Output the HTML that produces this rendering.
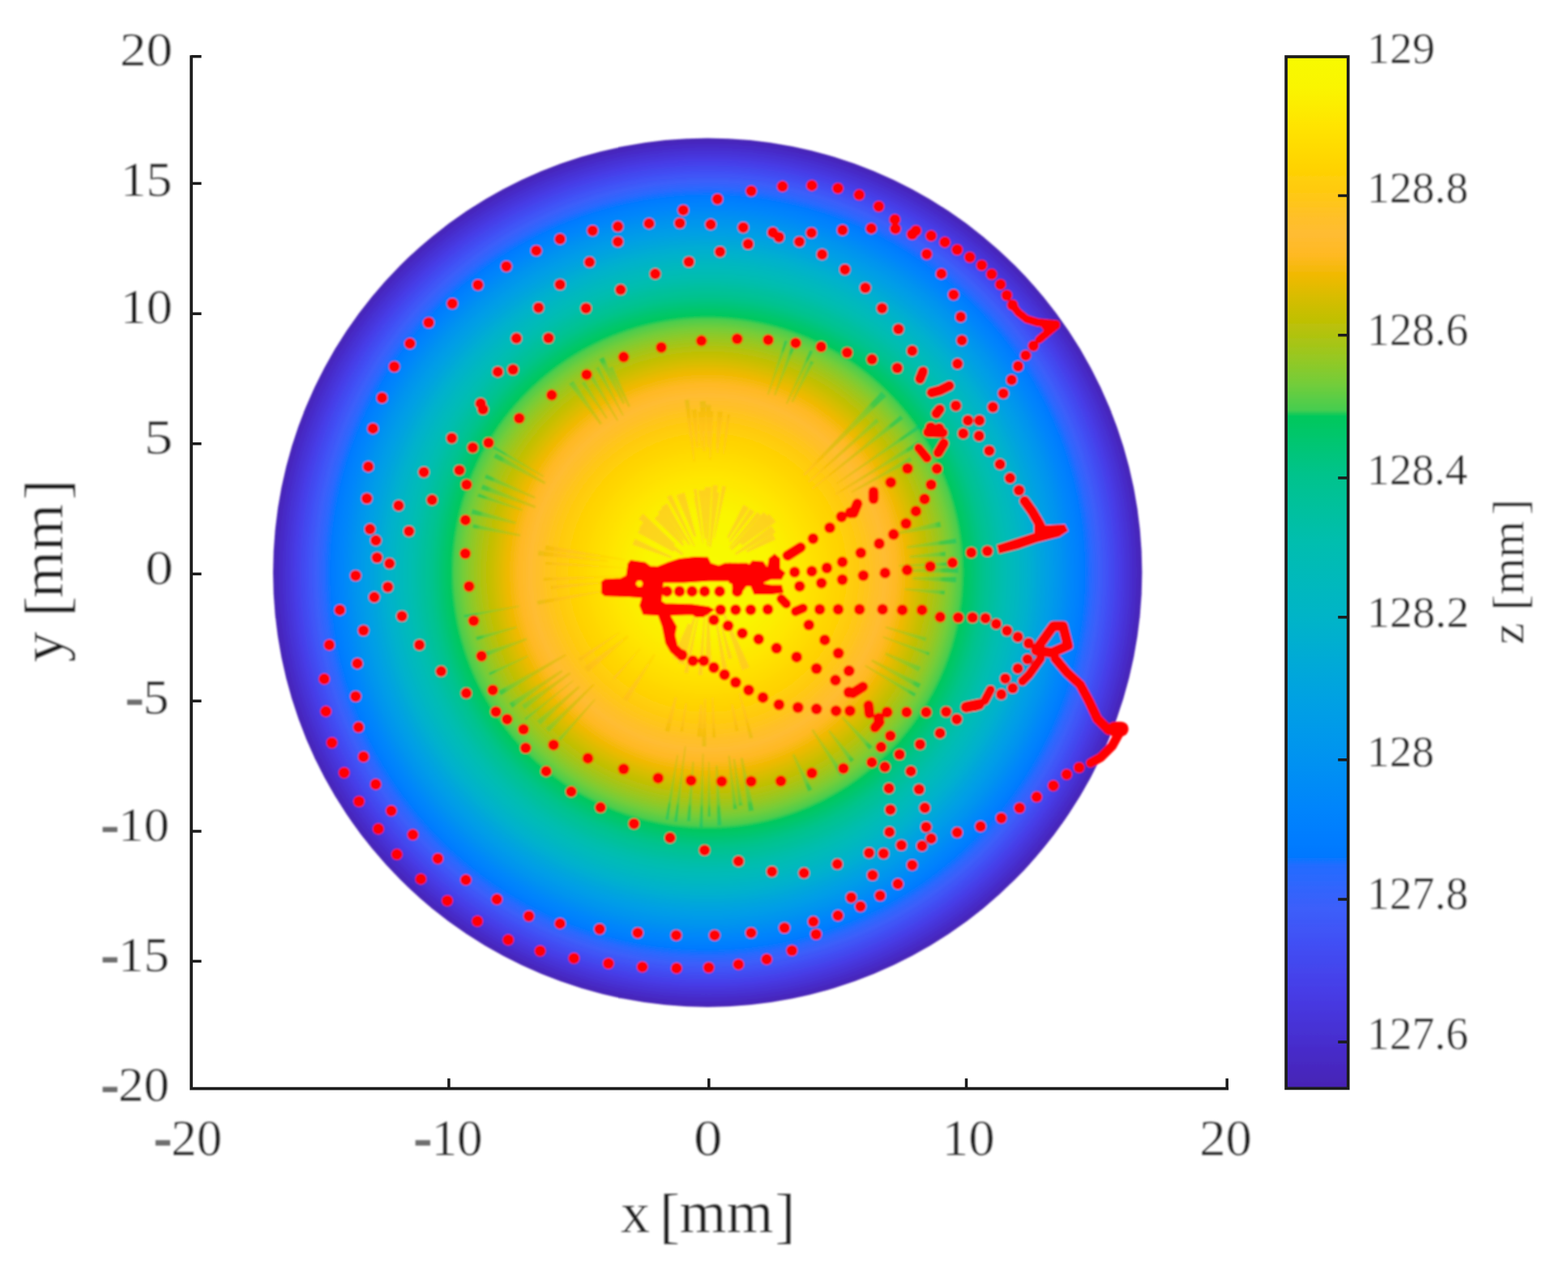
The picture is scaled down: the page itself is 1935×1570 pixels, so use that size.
<!DOCTYPE html>
<html><head><meta charset="utf-8"><title>Surface plot</title>
<style>html,body{margin:0;padding:0;background:#fff}svg{display:block}</style></head>
<body>
<svg width="1935" height="1570" viewBox="0 0 1935 1570">
<defs>
<linearGradient id="cb" gradientUnits="userSpaceOnUse" x1="0" y1="70.0" x2="0" y2="1343.4">
<stop offset="0.0000" stop-color="#f8fa00"/>
<stop offset="0.0297" stop-color="#faf500"/>
<stop offset="0.0671" stop-color="#ffe400"/>
<stop offset="0.1044" stop-color="#ffd400"/>
<stop offset="0.1296" stop-color="#ffca0f"/>
<stop offset="0.1547" stop-color="#ffc028"/>
<stop offset="0.1720" stop-color="#ffbc32"/>
<stop offset="0.1924" stop-color="#ffb923"/>
<stop offset="0.2120" stop-color="#f0b900"/>
<stop offset="0.2423" stop-color="#cdbe00"/>
<stop offset="0.2623" stop-color="#b9c108"/>
<stop offset="0.2921" stop-color="#96c823"/>
<stop offset="0.3173" stop-color="#73cd3a"/>
<stop offset="0.3424" stop-color="#46cd50"/>
<stop offset="0.3487" stop-color="#00c85c"/>
<stop offset="0.4052" stop-color="#00c38c"/>
<stop offset="0.4712" stop-color="#00beaf"/>
<stop offset="0.5442" stop-color="#00b4c8"/>
<stop offset="0.6267" stop-color="#00a0e4"/>
<stop offset="0.6793" stop-color="#0093f0"/>
<stop offset="0.7303" stop-color="#0084fc"/>
<stop offset="0.7586" stop-color="#007cff"/>
<stop offset="0.7751" stop-color="#0078ff"/>
<stop offset="0.7837" stop-color="#236cff"/>
<stop offset="0.8246" stop-color="#3c5ffa"/>
<stop offset="0.8575" stop-color="#4150f5"/>
<stop offset="0.9070" stop-color="#463ce6"/>
<stop offset="0.9565" stop-color="#462dcd"/>
<stop offset="1.0000" stop-color="#4623b4"/>
</linearGradient>
<radialGradient id="rg" gradientUnits="userSpaceOnUse" cx="873.2" cy="706.7" r="536.2">
<stop offset="0.0000" stop-color="#f8fa00"/>
<stop offset="0.0083" stop-color="#f8fa00"/>
<stop offset="0.0167" stop-color="#f8fa00"/>
<stop offset="0.0250" stop-color="#f8fa00"/>
<stop offset="0.0333" stop-color="#f8fa00"/>
<stop offset="0.0417" stop-color="#f8f900"/>
<stop offset="0.0500" stop-color="#f8f900"/>
<stop offset="0.0583" stop-color="#f8f900"/>
<stop offset="0.0667" stop-color="#f8f900"/>
<stop offset="0.0750" stop-color="#f9f800"/>
<stop offset="0.0833" stop-color="#f9f800"/>
<stop offset="0.0917" stop-color="#f9f800"/>
<stop offset="0.1000" stop-color="#f9f700"/>
<stop offset="0.1083" stop-color="#f9f700"/>
<stop offset="0.1167" stop-color="#f9f700"/>
<stop offset="0.1250" stop-color="#faf600"/>
<stop offset="0.1333" stop-color="#faf600"/>
<stop offset="0.1417" stop-color="#faf500"/>
<stop offset="0.1500" stop-color="#faf400"/>
<stop offset="0.1583" stop-color="#fbf200"/>
<stop offset="0.1667" stop-color="#fbf100"/>
<stop offset="0.1750" stop-color="#fcef00"/>
<stop offset="0.1833" stop-color="#fcee00"/>
<stop offset="0.1917" stop-color="#fdec00"/>
<stop offset="0.2000" stop-color="#fdea00"/>
<stop offset="0.2083" stop-color="#fee800"/>
<stop offset="0.2167" stop-color="#fee700"/>
<stop offset="0.2250" stop-color="#ffe500"/>
<stop offset="0.2333" stop-color="#ffe300"/>
<stop offset="0.2417" stop-color="#ffe100"/>
<stop offset="0.2500" stop-color="#ffe000"/>
<stop offset="0.2583" stop-color="#ffde00"/>
<stop offset="0.2667" stop-color="#ffdc00"/>
<stop offset="0.2750" stop-color="#ffda00"/>
<stop offset="0.2833" stop-color="#ffd800"/>
<stop offset="0.2917" stop-color="#ffd600"/>
<stop offset="0.3000" stop-color="#ffd400"/>
<stop offset="0.3083" stop-color="#ffd302"/>
<stop offset="0.3167" stop-color="#ffd105"/>
<stop offset="0.3250" stop-color="#ffcf08"/>
<stop offset="0.3333" stop-color="#ffcd0b"/>
<stop offset="0.3417" stop-color="#ffcb0e"/>
<stop offset="0.3500" stop-color="#ffc912"/>
<stop offset="0.3583" stop-color="#ffc717"/>
<stop offset="0.3667" stop-color="#ffc51c"/>
<stop offset="0.3750" stop-color="#ffc321"/>
<stop offset="0.3833" stop-color="#ffc027"/>
<stop offset="0.3917" stop-color="#ffbf2b"/>
<stop offset="0.4000" stop-color="#ffbe2e"/>
<stop offset="0.4083" stop-color="#ffbc32"/>
<stop offset="0.4167" stop-color="#ffbb2e"/>
<stop offset="0.4250" stop-color="#ffba29"/>
<stop offset="0.4333" stop-color="#ffb925"/>
<stop offset="0.4417" stop-color="#fbb91b"/>
<stop offset="0.4500" stop-color="#f6b90e"/>
<stop offset="0.4583" stop-color="#f1b902"/>
<stop offset="0.4667" stop-color="#e9ba00"/>
<stop offset="0.4750" stop-color="#e0bb00"/>
<stop offset="0.4833" stop-color="#d7bd00"/>
<stop offset="0.4917" stop-color="#cebe00"/>
<stop offset="0.5000" stop-color="#c5bf03"/>
<stop offset="0.5083" stop-color="#bdc006"/>
<stop offset="0.5167" stop-color="#b4c20c"/>
<stop offset="0.5250" stop-color="#a9c414"/>
<stop offset="0.5333" stop-color="#9fc61c"/>
<stop offset="0.5417" stop-color="#94c824"/>
<stop offset="0.5500" stop-color="#88ca2c"/>
<stop offset="0.5583" stop-color="#7bcc35"/>
<stop offset="0.5667" stop-color="#6ccd3d"/>
<stop offset="0.5750" stop-color="#5bcd46"/>
<stop offset="0.5833" stop-color="#4acd4e"/>
<stop offset="0.5917" stop-color="#00c85d"/>
<stop offset="0.6000" stop-color="#00c766"/>
<stop offset="0.6083" stop-color="#00c66f"/>
<stop offset="0.6167" stop-color="#00c579"/>
<stop offset="0.6250" stop-color="#00c483"/>
<stop offset="0.6333" stop-color="#00c38c"/>
<stop offset="0.6417" stop-color="#00c293"/>
<stop offset="0.6500" stop-color="#00c199"/>
<stop offset="0.6583" stop-color="#00c09f"/>
<stop offset="0.6667" stop-color="#00bfa6"/>
<stop offset="0.6750" stop-color="#00beac"/>
<stop offset="0.6833" stop-color="#00bdb1"/>
<stop offset="0.6917" stop-color="#00bbb6"/>
<stop offset="0.7000" stop-color="#00baba"/>
<stop offset="0.7083" stop-color="#00b8be"/>
<stop offset="0.7167" stop-color="#00b6c2"/>
<stop offset="0.7250" stop-color="#00b4c7"/>
<stop offset="0.7333" stop-color="#00b2cb"/>
<stop offset="0.7417" stop-color="#00afcf"/>
<stop offset="0.7500" stop-color="#00acd4"/>
<stop offset="0.7583" stop-color="#00a8d8"/>
<stop offset="0.7667" stop-color="#00a5dd"/>
<stop offset="0.7750" stop-color="#00a2e1"/>
<stop offset="0.7833" stop-color="#009fe5"/>
<stop offset="0.7917" stop-color="#009ce8"/>
<stop offset="0.8000" stop-color="#0098eb"/>
<stop offset="0.8083" stop-color="#0095ee"/>
<stop offset="0.8167" stop-color="#0091f1"/>
<stop offset="0.8250" stop-color="#008df4"/>
<stop offset="0.8333" stop-color="#0089f8"/>
<stop offset="0.8417" stop-color="#0085fb"/>
<stop offset="0.8500" stop-color="#0082fd"/>
<stop offset="0.8583" stop-color="#007efe"/>
<stop offset="0.8667" stop-color="#007aff"/>
<stop offset="0.8750" stop-color="#1670ff"/>
<stop offset="0.8833" stop-color="#2a69fe"/>
<stop offset="0.8917" stop-color="#3264fc"/>
<stop offset="0.9000" stop-color="#3b60fa"/>
<stop offset="0.9083" stop-color="#3e59f8"/>
<stop offset="0.9167" stop-color="#4053f6"/>
<stop offset="0.9250" stop-color="#424df3"/>
<stop offset="0.9333" stop-color="#4347ee"/>
<stop offset="0.9417" stop-color="#4541ea"/>
<stop offset="0.9500" stop-color="#463be5"/>
<stop offset="0.9583" stop-color="#4637dd"/>
<stop offset="0.9667" stop-color="#4632d6"/>
<stop offset="0.9750" stop-color="#462ece"/>
<stop offset="0.9833" stop-color="#462ac6"/>
<stop offset="0.9917" stop-color="#4627bd"/>
<stop offset="1.0000" stop-color="#4623b4"/>
</radialGradient>
<radialGradient id="rg2" gradientUnits="userSpaceOnUse" cx="873.2" cy="706.7" r="536.2">
<stop offset="0.0000" stop-color="#f8fa00"/>
<stop offset="0.0083" stop-color="#f8fa00"/>
<stop offset="0.0167" stop-color="#f8f900"/>
<stop offset="0.0250" stop-color="#f8f900"/>
<stop offset="0.0333" stop-color="#f8f900"/>
<stop offset="0.0417" stop-color="#f9f800"/>
<stop offset="0.0500" stop-color="#f9f800"/>
<stop offset="0.0583" stop-color="#f9f700"/>
<stop offset="0.0667" stop-color="#f9f700"/>
<stop offset="0.0750" stop-color="#faf600"/>
<stop offset="0.0833" stop-color="#faf600"/>
<stop offset="0.0917" stop-color="#faf500"/>
<stop offset="0.1000" stop-color="#fbf300"/>
<stop offset="0.1083" stop-color="#fbf100"/>
<stop offset="0.1167" stop-color="#fcee00"/>
<stop offset="0.1250" stop-color="#fdec00"/>
<stop offset="0.1333" stop-color="#fdea00"/>
<stop offset="0.1417" stop-color="#fee800"/>
<stop offset="0.1500" stop-color="#ffe600"/>
<stop offset="0.1583" stop-color="#ffe300"/>
<stop offset="0.1667" stop-color="#ffe100"/>
<stop offset="0.1750" stop-color="#ffdf00"/>
<stop offset="0.1833" stop-color="#ffdd00"/>
<stop offset="0.1917" stop-color="#ffda00"/>
<stop offset="0.2000" stop-color="#ffd800"/>
<stop offset="0.2083" stop-color="#ffd600"/>
<stop offset="0.2167" stop-color="#ffd401"/>
<stop offset="0.2250" stop-color="#ffd104"/>
<stop offset="0.2333" stop-color="#ffcf07"/>
<stop offset="0.2417" stop-color="#ffcd0a"/>
<stop offset="0.2500" stop-color="#ffcb0e"/>
<stop offset="0.2583" stop-color="#ffc912"/>
<stop offset="0.2667" stop-color="#ffc618"/>
<stop offset="0.2750" stop-color="#ffc41d"/>
<stop offset="0.2833" stop-color="#ffc223"/>
<stop offset="0.2917" stop-color="#ffc029"/>
<stop offset="0.3000" stop-color="#ffbe2c"/>
<stop offset="0.3083" stop-color="#ffbd2f"/>
<stop offset="0.3167" stop-color="#ffbc31"/>
<stop offset="0.3250" stop-color="#ffbb2c"/>
<stop offset="0.3333" stop-color="#ffba28"/>
<stop offset="0.3417" stop-color="#ffb923"/>
<stop offset="0.3500" stop-color="#fab918"/>
<stop offset="0.3583" stop-color="#f5b90d"/>
<stop offset="0.3667" stop-color="#f1b901"/>
<stop offset="0.3750" stop-color="#e9ba00"/>
<stop offset="0.3833" stop-color="#e2bb00"/>
<stop offset="0.3917" stop-color="#dabc00"/>
<stop offset="0.4000" stop-color="#d2bd00"/>
<stop offset="0.4083" stop-color="#cbbe01"/>
<stop offset="0.4167" stop-color="#c4bf03"/>
<stop offset="0.4250" stop-color="#bec006"/>
<stop offset="0.4333" stop-color="#b7c10a"/>
<stop offset="0.4417" stop-color="#afc310"/>
<stop offset="0.4500" stop-color="#a7c516"/>
<stop offset="0.4583" stop-color="#9fc61c"/>
<stop offset="0.4667" stop-color="#98c822"/>
<stop offset="0.4750" stop-color="#8fc928"/>
<stop offset="0.4833" stop-color="#86ca2e"/>
<stop offset="0.4917" stop-color="#7dcc34"/>
<stop offset="0.5000" stop-color="#74cd3a"/>
<stop offset="0.5083" stop-color="#68cd3f"/>
<stop offset="0.5167" stop-color="#5dcd45"/>
<stop offset="0.5250" stop-color="#51cd4a"/>
<stop offset="0.5333" stop-color="#45cd50"/>
<stop offset="0.5417" stop-color="#00c85c"/>
<stop offset="0.5500" stop-color="#00c762"/>
<stop offset="0.5583" stop-color="#00c767"/>
<stop offset="0.5667" stop-color="#00c66d"/>
<stop offset="0.5750" stop-color="#00c673"/>
<stop offset="0.5833" stop-color="#00c579"/>
<stop offset="0.5917" stop-color="#00c480"/>
<stop offset="0.6000" stop-color="#00c486"/>
<stop offset="0.6083" stop-color="#00c38c"/>
<stop offset="0.6167" stop-color="#00c290"/>
<stop offset="0.6250" stop-color="#00c295"/>
<stop offset="0.6333" stop-color="#00c19b"/>
<stop offset="0.6417" stop-color="#00c0a2"/>
<stop offset="0.6500" stop-color="#00bfa8"/>
<stop offset="0.6583" stop-color="#00beaf"/>
<stop offset="0.6667" stop-color="#00bcb3"/>
<stop offset="0.6750" stop-color="#00bbb7"/>
<stop offset="0.6833" stop-color="#00b9bc"/>
<stop offset="0.6917" stop-color="#00b7c0"/>
<stop offset="0.7000" stop-color="#00b6c4"/>
<stop offset="0.7083" stop-color="#00b4c9"/>
<stop offset="0.7167" stop-color="#00b1cd"/>
<stop offset="0.7250" stop-color="#00add1"/>
<stop offset="0.7333" stop-color="#00aad6"/>
<stop offset="0.7417" stop-color="#00a7da"/>
<stop offset="0.7500" stop-color="#00a4de"/>
<stop offset="0.7583" stop-color="#00a1e3"/>
<stop offset="0.7667" stop-color="#009ee6"/>
<stop offset="0.7750" stop-color="#009ae9"/>
<stop offset="0.7833" stop-color="#0097ec"/>
<stop offset="0.7917" stop-color="#0094ef"/>
<stop offset="0.8000" stop-color="#0090f3"/>
<stop offset="0.8083" stop-color="#008cf6"/>
<stop offset="0.8167" stop-color="#0088f9"/>
<stop offset="0.8250" stop-color="#0084fc"/>
<stop offset="0.8333" stop-color="#0080fe"/>
<stop offset="0.8417" stop-color="#007cff"/>
<stop offset="0.8500" stop-color="#0079ff"/>
<stop offset="0.8583" stop-color="#246bff"/>
<stop offset="0.8667" stop-color="#2d67fd"/>
<stop offset="0.8750" stop-color="#3662fb"/>
<stop offset="0.8833" stop-color="#3d5df9"/>
<stop offset="0.8917" stop-color="#3f57f7"/>
<stop offset="0.9000" stop-color="#4150f5"/>
<stop offset="0.9083" stop-color="#424af1"/>
<stop offset="0.9167" stop-color="#4445ec"/>
<stop offset="0.9250" stop-color="#453fe8"/>
<stop offset="0.9333" stop-color="#4639e2"/>
<stop offset="0.9417" stop-color="#4635da"/>
<stop offset="0.9500" stop-color="#4630d3"/>
<stop offset="0.9583" stop-color="#462ccb"/>
<stop offset="0.9667" stop-color="#4629c2"/>
<stop offset="0.9750" stop-color="#4625b9"/>
<stop offset="0.9833" stop-color="#4623b4"/>
<stop offset="0.9917" stop-color="#4623b4"/>
<stop offset="1.0000" stop-color="#4623b4"/>
</radialGradient>
<filter id="bl" x="-5%" y="-5%" width="110%" height="110%"><feGaussianBlur stdDeviation="1.2"/></filter>
<filter id="bt" x="-20%" y="-20%" width="140%" height="140%"><feGaussianBlur stdDeviation="0.8"/></filter>
<filter id="ba" x="-5%" y="-5%" width="110%" height="110%"><feGaussianBlur stdDeviation="0.55"/></filter>
</defs>
<rect width="1935" height="1570" fill="#fff"/>
<g filter="url(#bl)">
<circle cx="873.2" cy="706.7" r="536.2" fill="url(#rg)"/>
<g fill="url(#rg2)" opacity="0.5">
<path d="M771.2,690.1 L673.5,673.1 L672.6,678.9 L770.9,691.9Z"/>
<path d="M750.4,691.5 L664.5,679.6 L663.8,685.7 L750.2,693.6Z"/>
<path d="M771.4,700.3 L673.2,693.4 L673.0,697.0 L771.3,701.4Z"/>
<path d="M778.1,710.1 L670.9,713.1 L671.0,716.9 L778.2,711.1Z"/>
<path d="M750.1,717.6 L679.6,722.9 L680.0,727.5 L750.3,719.4Z"/>
<path d="M759.5,726.0 L662.7,741.4 L663.6,746.6 L759.8,727.7Z"/>
<path d="M763.9,779.9 L713.3,812.6 L716.0,816.5 L765.0,781.5Z"/>
<path d="M774.1,783.9 L720.7,823.5 L725.8,829.8 L776.1,786.4Z"/>
<path d="M789.5,800.3 L755.8,837.1 L758.2,839.2 L790.6,801.2Z"/>
<path d="M806.8,806.9 L768.5,862.4 L774.1,866.1 L809.0,808.3Z"/>
<path d="M832.7,860.1 L820.3,902.0 L826.2,903.5 L835.4,860.8Z"/>
<path d="M845.9,867.6 L839.2,902.8 L842.9,903.4 L847.7,867.9Z"/>
<path d="M863.8,869.7 L860.2,909.3 L866.5,909.6 L866.8,869.9Z"/>
<path d="M868.9,862.4 L866.2,921.1 L871.5,921.2 L871.2,862.5Z"/>
<path d="M878.4,860.8 L879.2,910.4 L883.3,910.2 L880.2,860.8Z"/>
<path d="M902.3,869.4 L907.3,902.7 L911.8,901.9 L904.5,868.9Z"/>
<path d="M911.5,855.4 L925.0,911.6 L929.4,910.4 L913.4,854.9Z"/>
<path d="M893.6,560.6 L901.2,511.7 L897.6,511.2 L892.0,560.4Z"/>
<path d="M886.5,559.2 L892.0,508.6 L887.2,508.2 L884.3,559.1Z"/>
<path d="M885.9,554.0 L890.9,508.1 L885.4,507.7 L883.4,553.8Z"/>
<path d="M877.4,568.2 L880.2,507.6 L875.4,507.5 L875.4,568.1Z"/>
<path d="M875.4,552.3 L877.5,499.7 L871.1,499.6 L872.6,552.3Z"/>
<path d="M870.5,557.2 L870.9,495.1 L863.7,495.3 L867.5,557.3Z"/>
<path d="M866.3,553.8 L864.9,508.0 L861.5,508.2 L864.7,553.8Z"/>
<path d="M862.0,552.5 L859.8,505.3 L853.5,505.8 L859.1,552.7Z"/>
<path d="M857.8,569.9 L850.3,493.2 L844.9,493.9 L855.8,570.2Z"/>
<path d="M777.9,501.6 L756.1,452.2 L751.2,454.5 L775.5,502.7Z"/>
<path d="M771.4,497.6 L745.1,440.4 L739.1,443.4 L768.6,499.0Z"/>
<path d="M769.9,512.4 L738.9,452.4 L735.2,454.4 L768.2,513.3Z"/>
<path d="M763.2,518.7 L732.3,464.0 L728.3,466.3 L761.4,519.8Z"/>
<path d="M749.8,515.7 L721.6,470.4 L717.6,472.9 L747.9,517.0Z"/>
<path d="M743.0,522.4 L707.7,470.2 L702.2,474.1 L740.4,524.2Z"/>
<path d="M671.4,587.6 L609.9,550.6 L608.2,553.4 L670.6,588.9Z"/>
<path d="M673.6,595.1 L612.1,559.2 L608.9,564.8 L672.2,597.7Z"/>
<path d="M660.9,613.3 L600.0,585.3 L597.8,590.3 L659.9,615.6Z"/>
<path d="M661.3,624.5 L595.7,597.7 L593.5,603.7 L660.3,627.3Z"/>
<path d="M644.8,628.5 L590.4,609.0 L589.0,613.1 L644.1,630.5Z"/>
<path d="M637.0,643.9 L583.0,628.3 L581.4,634.4 L636.2,646.9Z"/>
<path d="M642.1,659.6 L584.1,646.7 L583.1,651.8 L641.6,662.0Z"/>
<path d="M1116.4,728.6 L1165.8,734.1 L1166.2,728.9 L1116.6,726.0Z"/>
<path d="M1126.2,715.6 L1180.0,718.9 L1180.2,712.0 L1126.3,712.2Z"/>
<path d="M1124.4,705.9 L1182.6,707.2 L1182.5,699.9 L1124.3,702.4Z"/>
<path d="M1109.5,699.5 L1180.5,698.4 L1180.3,693.3 L1109.4,697.2Z"/>
<path d="M1122.6,688.7 L1167.2,686.6 L1166.8,680.8 L1122.4,685.7Z"/>
<path d="M1119.1,676.9 L1180.4,670.8 L1179.6,664.5 L1118.7,673.9Z"/>
<path d="M1107.8,659.9 L1161.5,650.6 L1160.0,643.7 L1107.1,656.5Z"/>
<path d="M1051.3,608.5 L1125.7,568.7 L1123.0,564.0 L1050.2,606.5Z"/>
<path d="M1031.5,610.9 L1136.3,548.8 L1133.4,544.1 L1030.4,609.2Z"/>
<path d="M1032.6,597.9 L1137.5,527.6 L1134.6,523.4 L1031.5,596.4Z"/>
<path d="M1003.1,603.9 L1114.8,517.0 L1111.3,512.6 L1002.0,602.5Z"/>
<path d="M998.6,595.6 L1084.9,520.6 L1081.2,516.6 L997.3,594.2Z"/>
<path d="M993.0,587.4 L1093.8,489.3 L1087.8,483.3 L991.0,585.4Z"/>
<path d="M697.7,807.0 L615.1,852.8 L618.2,858.2 L699.0,809.2Z"/>
<path d="M693.0,826.7 L628.4,868.1 L632.2,873.7 L694.7,829.2Z"/>
<path d="M702.8,829.4 L643.9,870.1 L647.7,875.4 L704.5,831.7Z"/>
<path d="M706.8,839.7 L647.2,886.5 L649.2,889.1 L707.7,840.8Z"/>
<path d="M714.0,846.2 L662.5,889.6 L666.9,894.5 L716.0,848.4Z"/>
<path d="M732.0,843.7 L673.3,899.0 L677.7,903.4 L733.9,845.6Z"/>
<path d="M733.5,862.8 L688.8,911.6 L691.9,914.4 L734.9,864.1Z"/>
<path d="M835.3,931.7 L821.1,1011.3 L824.9,1011.9 L837.0,932.0Z"/>
<path d="M844.9,921.1 L831.9,1013.9 L835.8,1014.4 L846.6,921.3Z"/>
<path d="M854.4,939.9 L847.6,1013.4 L852.1,1013.7 L856.5,940.1Z"/>
<path d="M866.7,930.3 L863.2,1021.1 L867.3,1021.2 L868.4,930.3Z"/>
<path d="M874.0,940.0 L873.6,1007.9 L876.9,1007.9 L875.5,940.0Z"/>
<path d="M883.1,944.9 L885.2,1018.8 L890.5,1018.6 L885.6,944.7Z"/>
<path d="M898.5,932.7 L904.9,999.1 L909.8,998.6 L900.7,932.4Z"/>
<path d="M904.6,936.8 L911.5,994.6 L916.5,993.9 L907.0,936.4Z"/>
<path d="M913.7,935.8 L923.9,1001.5 L930.4,1000.3 L916.7,935.3Z"/>
<path d="M1067.3,822.5 L1128.3,859.9 L1130.6,856.0 L1068.4,820.7Z"/>
<path d="M1075.1,816.4 L1133.6,849.5 L1136.5,844.0 L1076.5,813.8Z"/>
<path d="M1092.1,808.2 L1133.4,828.8 L1136.1,823.0 L1093.5,805.3Z"/>
<path d="M1089.2,787.1 L1146.0,809.1 L1147.4,805.3 L1089.9,785.3Z"/>
<path d="M1092.7,775.2 L1142.1,791.5 L1143.5,787.0 L1093.4,773.0Z"/>
<path d="M978.5,496.7 L1004.3,447.3 L1000.1,445.2 L976.4,495.7Z"/>
<path d="M971.6,498.8 L1003.4,433.8 L999.5,432.0 L969.8,498.0Z"/>
<path d="M957.0,488.2 L981.5,427.0 L977.1,425.4 L955.0,487.4Z"/>
<path d="M948.5,487.5 L972.1,421.3 L968.3,420.1 L946.8,486.9Z"/>
<path d="M640.7,747.6 L572.4,758.9 L572.9,762.2 L640.9,749.1Z"/>
<path d="M637.3,772.9 L587.1,786.0 L588.4,790.5 L637.9,775.1Z"/>
<path d="M649.5,787.4 L587.3,808.6 L589.4,814.2 L650.5,790.1Z"/>
<path d="M651.1,809.0 L603.0,830.4 L604.5,833.6 L651.9,810.6Z"/>
<path d="M977.5,931.5 L997.3,977.0 L1002.5,974.6 L980.1,930.3Z"/>
<path d="M1001.2,901.2 L1036.9,957.5 L1041.6,954.4 L1003.4,899.7Z"/>
<path d="M1022.0,902.7 L1049.7,941.2 L1054.2,937.7 L1024.2,901.0Z"/>
<path d="M1038.1,886.1 L1072.7,925.5 L1077.0,921.5 L1040.2,884.1Z"/>
</g>
<g fill="#ffb838" opacity="0.5">
<path d="M881.9,664.6 L896.0,600.6 L891.4,599.7 L880.8,664.4Z"/>
<path d="M877.4,675.8 L887.6,607.9 L882.2,607.3 L876.4,675.7Z"/>
<path d="M876.5,675.5 L885.8,599.2 L879.5,598.7 L875.4,675.4Z"/>
<path d="M874.1,674.2 L877.8,601.3 L869.6,601.2 L872.6,674.2Z"/>
<path d="M871.5,665.2 L870.6,604.7 L862.0,605.2 L869.3,665.3Z"/>
<path d="M866.8,660.0 L859.7,603.4 L855.9,603.9 L865.7,660.1Z"/>
<path d="M867.9,670.9 L860.3,613.9 L856.5,614.5 L867.1,671.1Z"/>
<path d="M859.3,661.8 L844.7,607.7 L834.7,611.2 L856.5,662.8Z"/>
<path d="M857.6,674.1 L828.4,610.5 L823.0,613.2 L856.5,674.7Z"/>
<path d="M851.9,671.8 L823.2,621.2 L815.8,626.0 L850.1,673.0Z"/>
<path d="M844.0,666.2 L817.7,627.3 L811.7,631.9 L842.1,667.7Z"/>
<path d="M844.5,672.3 L814.8,633.6 L807.6,640.0 L842.4,674.1Z"/>
<path d="M833.2,671.3 L793.6,634.0 L788.2,640.4 L831.6,673.2Z"/>
<path d="M843.5,683.2 L795.7,642.2 L788.6,651.9 L841.9,685.4Z"/>
<path d="M832.7,678.5 L793.0,648.3 L787.0,657.5 L830.9,681.3Z"/>
<path d="M829.3,687.1 L783.6,665.0 L780.5,672.2 L828.5,689.2Z"/>
<path d="M922.0,682.0 L957.3,665.9 L953.5,658.9 L920.7,679.5Z"/>
<path d="M908.1,685.1 L957.3,657.0 L952.0,648.9 L906.8,683.1Z"/>
<path d="M916.0,673.2 L957.5,644.0 L949.2,634.3 L913.5,670.2Z"/>
<path d="M902.9,679.3 L949.5,639.2 L942.5,631.9 L901.2,677.6Z"/>
<path d="M900.8,676.3 L938.9,636.0 L934.5,632.1 L899.7,675.3Z"/>
<path d="M901.3,669.2 L931.1,631.7 L925.8,627.9 L899.7,668.1Z"/>
<path d="M899.3,664.5 L924.2,627.1 L917.4,623.1 L897.1,663.2Z"/>
<path d="M848.9,769.6 L829.9,812.2 L840.9,816.1 L852.8,771.0Z"/>
<path d="M857.5,756.4 L836.4,818.1 L844.2,820.4 L859.6,757.0Z"/>
<path d="M861.2,759.5 L844.1,830.1 L849.1,831.1 L862.5,759.8Z"/>
<path d="M869.0,756.5 L861.6,833.1 L866.6,833.5 L870.2,756.6Z"/>
<path d="M872.7,757.2 L870.7,819.2 L878.2,819.1 L874.8,757.2Z"/>
<path d="M882.1,761.0 L891.8,828.3 L897.6,827.3 L883.6,760.8Z"/>
<path d="M889.4,771.7 L898.9,813.8 L903.7,812.5 L891.2,771.2Z"/>
<path d="M891.2,755.2 L915.8,827.4 L925.0,823.7 L893.4,754.3Z"/>
</g>
<path d="M1280.9,396.7 L1304.7,396.7 L1306.1,403.7 L1292.1,412.1Z" fill="#ff0000" stroke="#ff0000" stroke-width="2" stroke-linejoin="round"/>
<path d="M742.9,718.6 L746.5,715.5 L766.2,714.4 L773.4,710.8 L775.5,695.8 L778.6,692.2 L796.1,694.8 L802.4,699.5 L811.7,700.0 L823.0,695.3 L838.5,690.2 L858.2,688.1 L873.2,688.6 L876.8,695.8 L887.1,698.9 L894.3,695.8 L901.6,695.8 L905.7,702.0 L911.9,695.8 L922.2,695.8 L925.3,701.0 L930.0,693.8 L930.0,715.5 L905.7,716.5 L874.7,716.5 L843.7,718.6 L817.9,718.6 L815.8,742.4 L821.0,745.5 L854.0,746.5 L874.7,749.6 L879.9,752.7 L874.7,756.8 L867.5,761.0 L859.2,761.0 L854.0,757.9 L826.1,758.9 L834.4,773.4 L832.3,783.7 L835.4,797.1 L843.7,804.4 L837.5,812.6 L828.2,804.4 L822.0,794.0 L817.9,773.4 L812.7,758.9 L794.1,757.9 L789.9,747.5 L793.0,737.2 L776.5,736.1 L746.5,735.1 L742.9,732.0Z" fill="#ff0000" stroke="#ff0000" stroke-width="2" stroke-linejoin="round"/>
<path d="M785.8,720.6 L787.4,718.1 L790.5,717.8 L792.0,720.1 L791.2,722.7 L788.1,723.2Z" fill="#ffee00" stroke="#ffee00" stroke-width="2" stroke-linejoin="round"/>
<path d="M900.0,695.8 L910.3,695.8 L920.7,702.0 L928.9,692.7 L941.3,693.7 L947.5,702.0 L949.6,689.6 L955.8,684.4 L962.0,689.6 L962.0,702.0 L968.2,707.2 L964.1,714.4 L951.7,714.4 L944.4,717.5 L939.3,720.6 L951.7,722.7 L964.1,722.7 L966.1,731.0 L951.7,733.0 L931.0,733.0 L926.9,722.7 L920.7,722.7 L913.4,733.0 L905.2,733.0 L904.1,720.6 L900.0,718.6Z" fill="#ff0000" stroke="#ff0000" stroke-width="2" stroke-linejoin="round"/>
<path d="M1277.0,644.7 L1290.8,649.2 L1313.7,648.1 L1317.1,655.0 L1306.8,661.9 L1279.3,668.7 L1256.4,676.8 L1233.4,682.5 L1231.2,673.3 L1256.4,665.3 L1277.0,658.4Z" fill="#ff0000" stroke="#ff0000" stroke-width="2" stroke-linejoin="round"/>
<g fill="none" stroke="#ff0000" stroke-linecap="round" stroke-linejoin="round">
<path d="M1139.0,458.5 L1135.3,467.6" stroke-width="12.7"/>
<path d="M1171.5,476.1 L1160.1,481.9 L1149.7,484.6" stroke-width="12.7"/>
<path d="M1159.6,505.2 L1155.5,510.5" stroke-width="12.7"/>
<path d="M1249.4,376.4 L1256.4,385.5 L1266.9,393.9 L1280.9,398.1 L1303.3,400.2" stroke-width="10.0"/>
<path d="M1303.3,401.6 L1290.7,412.1 L1282.3,419.1" stroke-width="10.0"/>
<path d="M972.0,685.9 L988.1,675.6" stroke-width="12.7"/>
<path d="M971.3,685.5 L986.8,676.2" stroke-width="11.7"/>
<path d="M964.1,739.2 L970.3,745.4" stroke-width="11.7"/>
<path d="M981.7,754.7 L991.0,750.6" stroke-width="11.7"/>
<path d="M1145.2,533.4 L1163.5,534.1" stroke-width="12.7"/>
<path d="M1264.4,618.3 L1273.6,630.9 L1281.6,644.7 L1286.2,653.8" stroke-width="12.7"/>
<path d="M1164.7,547.2 L1157.8,558.7" stroke-width="12.7"/>
<path d="M1133.7,552.9 L1144.0,565.5" stroke-width="11.6"/>
<path d="M1078.0,606.8 L1078.0,616.0" stroke-width="12.7"/>
<path d="M1058.0,621.7 L1053.4,633.2" stroke-width="12.7"/>
<path d="M1208.2,869.4 L1192.2,872.8" stroke-width="13.8"/>
<path d="M1071.8,870.5 L1072.9,880.8" stroke-width="12.7"/>
<path d="M1064.9,847.6 L1052.3,855.6" stroke-width="12.7"/>
<path d="M1278.5,802.4 L1299.8,772.9 L1311.8,772.9 L1318.0,796.8 L1298.1,805.6 L1278.5,803.1" stroke-width="12.7"/>
<path d="M1302.3,812.9 L1316.3,829.7 L1333.1,845.1 L1344.3,866.1 L1354.1,887.1 L1368.2,901.2 L1380.8,901.2" stroke-width="12.1"/>
<path d="M1375.2,899.8 L1383.6,899.8" stroke-width="18.2"/>
<path d="M1380.8,905.4 L1372.4,920.8 L1358.4,934.8 L1345.7,941.8" stroke-width="11.4"/>
<path d="M1284.1,812.9 L1270.1,832.5 L1261.7,840.9" stroke-width="11.4"/>
<path d="M1222.4,851.4 L1215.4,864.7" stroke-width="11.4"/>
<path d="M1085.5,891.1 L1079.8,898.0" stroke-width="12.7"/>
</g>
<g fill="#ff0000">
<circle cx="661.8" cy="309.4" r="7.0"/>
<circle cx="624.9" cy="328.7" r="7.0"/>
<circle cx="589.8" cy="351.8" r="7.0"/>
<circle cx="558.2" cy="374.8" r="7.0"/>
<circle cx="529.0" cy="398.2" r="7.0"/>
<circle cx="505.9" cy="424.1" r="7.0"/>
<circle cx="486.6" cy="452.5" r="7.0"/>
<circle cx="471.5" cy="491.0" r="7.0"/>
<circle cx="460.2" cy="528.9" r="7.0"/>
<circle cx="664.6" cy="379.8" r="7.0"/>
<circle cx="637.3" cy="417.6" r="7.0"/>
<circle cx="676.9" cy="417.2" r="7.0"/>
<circle cx="614.3" cy="458.9" r="7.0"/>
<circle cx="633.1" cy="456.2" r="7.0"/>
<circle cx="593.2" cy="497.9" r="7.0"/>
<circle cx="596.0" cy="505.2" r="7.0"/>
<circle cx="680.8" cy="487.6" r="7.0"/>
<circle cx="640.7" cy="516.3" r="7.0"/>
<circle cx="691.2" cy="295.0" r="7.0"/>
<circle cx="691.2" cy="351.2" r="7.0"/>
<circle cx="1034.0" cy="232.4" r="7.0"/>
<circle cx="1001.9" cy="228.9" r="7.0"/>
<circle cx="965.6" cy="230.1" r="7.0"/>
<circle cx="927.1" cy="235.8" r="7.0"/>
<circle cx="885.4" cy="245.7" r="7.0"/>
<circle cx="843.2" cy="259.4" r="7.0"/>
<circle cx="731.3" cy="284.7" r="7.0"/>
<circle cx="762.5" cy="279.6" r="7.0"/>
<circle cx="801.0" cy="275.9" r="7.0"/>
<circle cx="839.0" cy="275.5" r="7.0"/>
<circle cx="877.1" cy="277.1" r="7.0"/>
<circle cx="917.2" cy="280.8" r="7.0"/>
<circle cx="953.7" cy="286.9" r="7.0"/>
<circle cx="961.3" cy="292.7" r="7.0"/>
<circle cx="1001.4" cy="287.4" r="7.0"/>
<circle cx="1039.7" cy="284.0" r="7.0"/>
<circle cx="762.5" cy="298.4" r="7.0"/>
<circle cx="923.2" cy="301.2" r="7.0"/>
<circle cx="986.5" cy="298.4" r="7.0"/>
<circle cx="888.6" cy="310.8" r="7.0"/>
<circle cx="1014.5" cy="314.0" r="7.0"/>
<circle cx="850.1" cy="323.2" r="7.0"/>
<circle cx="727.6" cy="323.6" r="7.0"/>
<circle cx="1042.7" cy="332.8" r="7.0"/>
<circle cx="808.6" cy="338.1" r="7.0"/>
<circle cx="765.9" cy="357.6" r="7.0"/>
<circle cx="723.2" cy="380.5" r="7.0"/>
<circle cx="723.9" cy="462.4" r="7.0"/>
<circle cx="769.6" cy="440.6" r="7.0"/>
<circle cx="816.1" cy="428.7" r="7.0"/>
<circle cx="865.6" cy="420.6" r="7.0"/>
<circle cx="909.7" cy="418.3" r="7.0"/>
<circle cx="948.0" cy="419.5" r="7.0"/>
<circle cx="981.9" cy="423.4" r="7.0"/>
<circle cx="1013.3" cy="428.0" r="7.0"/>
<circle cx="1045.4" cy="435.3" r="7.0"/>
<circle cx="1060.3" cy="240.6" r="7.0"/>
<circle cx="1084.4" cy="254.8" r="7.0"/>
<circle cx="1104.3" cy="270.9" r="7.0"/>
<circle cx="1105.0" cy="282.4" r="7.0"/>
<circle cx="1125.7" cy="289.2" r="7.0"/>
<circle cx="1130.3" cy="284.7" r="7.0"/>
<circle cx="1149.1" cy="291.1" r="7.0"/>
<circle cx="1166.0" cy="298.9" r="7.0"/>
<circle cx="1181.2" cy="308.3" r="7.0"/>
<circle cx="1075.2" cy="281.9" r="7.0"/>
<circle cx="1143.6" cy="313.8" r="7.0"/>
<circle cx="1161.7" cy="337.9" r="7.0"/>
<circle cx="1176.8" cy="363.8" r="7.0"/>
<circle cx="1181.6" cy="449.1" r="7.0"/>
<circle cx="1067.9" cy="355.3" r="7.0"/>
<circle cx="1088.5" cy="380.5" r="7.0"/>
<circle cx="1108.7" cy="406.2" r="7.0"/>
<circle cx="1125.7" cy="433.0" r="7.0"/>
<circle cx="1076.1" cy="443.6" r="7.0"/>
<circle cx="1107.3" cy="454.3" r="7.0"/>
<circle cx="1179.6" cy="500.7" r="7.0"/>
<circle cx="1194.5" cy="519.0" r="7.0"/>
<circle cx="1208.7" cy="519.0" r="7.0"/>
<circle cx="1148.6" cy="527.7" r="7.0"/>
<circle cx="1158.9" cy="528.9" r="7.0"/>
<circle cx="1196.8" cy="317.5" r="6.9"/>
<circle cx="1211.5" cy="327.3" r="6.9"/>
<circle cx="1223.7" cy="338.5" r="6.9"/>
<circle cx="1234.7" cy="351.1" r="6.9"/>
<circle cx="1242.4" cy="364.5" r="6.9"/>
<circle cx="1249.4" cy="376.4" r="6.9"/>
<circle cx="1275.3" cy="426.8" r="6.9"/>
<circle cx="1265.8" cy="438.7" r="6.9"/>
<circle cx="1256.4" cy="452.0" r="6.9"/>
<circle cx="1248.4" cy="468.9" r="6.9"/>
<circle cx="1238.2" cy="485.7" r="6.9"/>
<circle cx="1225.3" cy="502.5" r="6.9"/>
<circle cx="1185.6" cy="391.1" r="6.9"/>
<circle cx="1187.0" cy="420.1" r="6.9"/>
<circle cx="557.5" cy="540.8" r="7.0"/>
<circle cx="583.4" cy="552.5" r="7.0"/>
<circle cx="602.9" cy="546.5" r="7.0"/>
<circle cx="454.5" cy="575.9" r="7.0"/>
<circle cx="523.1" cy="582.7" r="7.0"/>
<circle cx="566.9" cy="580.4" r="7.0"/>
<circle cx="575.8" cy="598.3" r="7.0"/>
<circle cx="452.7" cy="615.3" r="7.0"/>
<circle cx="491.9" cy="624.0" r="7.0"/>
<circle cx="533.2" cy="617.1" r="7.0"/>
<circle cx="574.4" cy="641.9" r="7.0"/>
<circle cx="456.6" cy="653.1" r="7.0"/>
<circle cx="463.9" cy="667.1" r="7.0"/>
<circle cx="504.7" cy="655.7" r="7.0"/>
<circle cx="465.3" cy="688.2" r="7.0"/>
<circle cx="480.7" cy="695.6" r="7.0"/>
<circle cx="574.2" cy="683.2" r="7.0"/>
<circle cx="438.9" cy="710.5" r="7.0"/>
<circle cx="478.6" cy="724.5" r="7.0"/>
<circle cx="461.9" cy="737.1" r="7.0"/>
<circle cx="578.8" cy="723.8" r="7.0"/>
<circle cx="419.4" cy="752.9" r="7.0"/>
<circle cx="496.0" cy="760.5" r="7.0"/>
<circle cx="584.5" cy="766.2" r="7.0"/>
<circle cx="448.6" cy="778.3" r="7.0"/>
<circle cx="406.4" cy="796.0" r="7.0"/>
<circle cx="517.6" cy="796.0" r="7.0"/>
<circle cx="594.2" cy="809.8" r="7.0"/>
<circle cx="441.0" cy="818.9" r="7.0"/>
<circle cx="544.4" cy="828.6" r="7.0"/>
<circle cx="400.2" cy="838.0" r="7.0"/>
<circle cx="608.1" cy="851.7" r="7.0"/>
<circle cx="575.4" cy="855.6" r="7.0"/>
<circle cx="438.9" cy="859.5" r="7.0"/>
<circle cx="402.2" cy="878.1" r="7.0"/>
<circle cx="612.0" cy="878.5" r="7.0"/>
<circle cx="625.8" cy="887.7" r="7.0"/>
<circle cx="894.1" cy="832.7" r="7.0"/>
<circle cx="907.8" cy="842.3" r="7.0"/>
<circle cx="923.9" cy="851.7" r="7.0"/>
<circle cx="941.5" cy="860.9" r="7.0"/>
<circle cx="961.3" cy="869.8" r="7.0"/>
<circle cx="984.7" cy="873.3" r="7.0"/>
<circle cx="1007.6" cy="875.1" r="7.0"/>
<circle cx="1031.7" cy="877.4" r="7.0"/>
<circle cx="1048.9" cy="877.4" r="7.0"/>
<circle cx="958.3" cy="800.1" r="7.0"/>
<circle cx="983.1" cy="810.9" r="7.0"/>
<circle cx="1007.6" cy="825.3" r="7.0"/>
<circle cx="1031.0" cy="839.6" r="7.0"/>
<circle cx="1047.7" cy="854.5" r="7.0"/>
<circle cx="1034.6" cy="806.3" r="7.0"/>
<circle cx="1047.7" cy="828.1" r="7.0"/>
<circle cx="1038.5" cy="637.8" r="7.0"/>
<circle cx="1049.6" cy="632.7" r="7.0"/>
<circle cx="823.0" cy="729.9" r="6.9"/>
<circle cx="838.5" cy="729.9" r="6.9"/>
<circle cx="854.0" cy="729.9" r="6.9"/>
<circle cx="869.5" cy="729.9" r="6.9"/>
<circle cx="888.1" cy="729.9" r="6.9"/>
<circle cx="909.8" cy="729.9" r="6.9"/>
<circle cx="889.2" cy="752.7" r="6.9"/>
<circle cx="907.8" cy="752.7" r="6.9"/>
<circle cx="926.4" cy="752.7" r="6.9"/>
<circle cx="880.9" cy="765.1" r="6.9"/>
<circle cx="898.5" cy="772.3" r="6.9"/>
<circle cx="916.0" cy="781.6" r="6.9"/>
<circle cx="841.6" cy="808.5" r="6.9"/>
<circle cx="855.1" cy="815.7" r="6.9"/>
<circle cx="868.5" cy="815.7" r="6.9"/>
<circle cx="880.9" cy="824.0" r="6.9"/>
<circle cx="980.6" cy="706.1" r="6.9"/>
<circle cx="1001.8" cy="705.1" r="6.9"/>
<circle cx="1020.4" cy="701.0" r="6.9"/>
<circle cx="1039.5" cy="693.7" r="6.9"/>
<circle cx="1062.3" cy="682.4" r="6.9"/>
<circle cx="1085.0" cy="671.0" r="6.9"/>
<circle cx="1024.0" cy="651.4" r="6.9"/>
<circle cx="1003.4" cy="664.8" r="6.9"/>
<circle cx="986.8" cy="723.7" r="6.9"/>
<circle cx="1013.7" cy="719.6" r="6.9"/>
<circle cx="1039.5" cy="715.5" r="6.9"/>
<circle cx="1065.4" cy="710.3" r="6.9"/>
<circle cx="1092.2" cy="707.2" r="6.9"/>
<circle cx="947.5" cy="752.1" r="6.9"/>
<circle cx="1011.6" cy="752.1" r="6.9"/>
<circle cx="1034.4" cy="752.1" r="6.9"/>
<circle cx="1060.7" cy="752.1" r="6.9"/>
<circle cx="1089.1" cy="752.1" r="6.9"/>
<circle cx="998.2" cy="771.3" r="6.9"/>
<circle cx="1017.8" cy="789.9" r="6.9"/>
<circle cx="936.2" cy="788.8" r="6.9"/>
<circle cx="1188.7" cy="535.0" r="7.0"/>
<circle cx="1208.2" cy="538.0" r="7.0"/>
<circle cx="1220.8" cy="556.4" r="7.0"/>
<circle cx="1234.1" cy="573.1" r="7.0"/>
<circle cx="1246.5" cy="590.1" r="7.0"/>
<circle cx="1257.5" cy="605.2" r="7.0"/>
<circle cx="1218.5" cy="680.2" r="7.0"/>
<circle cx="1198.6" cy="682.0" r="7.0"/>
<circle cx="1175.4" cy="694.6" r="7.0"/>
<circle cx="1148.1" cy="699.2" r="7.0"/>
<circle cx="1119.5" cy="703.6" r="7.0"/>
<circle cx="1102.7" cy="659.6" r="7.0"/>
<circle cx="1118.1" cy="646.3" r="7.0"/>
<circle cx="1130.3" cy="630.9" r="7.0"/>
<circle cx="1141.0" cy="616.0" r="7.0"/>
<circle cx="1149.1" cy="598.3" r="7.0"/>
<circle cx="1156.2" cy="578.6" r="7.0"/>
<circle cx="1119.9" cy="578.2" r="7.0"/>
<circle cx="1099.3" cy="595.4" r="7.0"/>
<circle cx="1113.5" cy="752.9" r="7.0"/>
<circle cx="1137.8" cy="752.9" r="7.0"/>
<circle cx="1160.3" cy="761.6" r="7.0"/>
<circle cx="1182.5" cy="762.3" r="7.0"/>
<circle cx="1200.2" cy="762.3" r="7.0"/>
<circle cx="1167.6" cy="878.5" r="7.0"/>
<circle cx="1142.9" cy="879.0" r="7.0"/>
<circle cx="1118.8" cy="879.0" r="7.0"/>
<circle cx="1094.7" cy="879.0" r="7.0"/>
<circle cx="1084.4" cy="886.6" r="7.0"/>
<circle cx="1180.7" cy="887.7" r="7.0"/>
<circle cx="1216.1" cy="763.1" r="6.9"/>
<circle cx="1229.4" cy="770.1" r="6.9"/>
<circle cx="1242.7" cy="778.5" r="6.9"/>
<circle cx="1256.1" cy="786.2" r="6.9"/>
<circle cx="1269.4" cy="794.0" r="6.9"/>
<circle cx="1249.7" cy="849.3" r="6.9"/>
<circle cx="1235.7" cy="857.0" r="6.9"/>
<circle cx="1202.8" cy="871.0" r="6.9"/>
<circle cx="1268.0" cy="813.6" r="6.9"/>
<circle cx="1256.1" cy="825.2" r="6.9"/>
<circle cx="1240.6" cy="837.7" r="6.9"/>
<circle cx="1331.7" cy="947.4" r="6.9"/>
<circle cx="1316.3" cy="955.8" r="6.9"/>
<circle cx="442.4" cy="897.6" r="7.0"/>
<circle cx="409.6" cy="916.8" r="7.0"/>
<circle cx="448.6" cy="934.0" r="7.0"/>
<circle cx="424.7" cy="953.7" r="7.0"/>
<circle cx="463.7" cy="968.0" r="7.0"/>
<circle cx="443.0" cy="989.3" r="7.0"/>
<circle cx="482.9" cy="1000.8" r="7.0"/>
<circle cx="466.9" cy="1023.0" r="7.0"/>
<circle cx="509.5" cy="1030.3" r="7.0"/>
<circle cx="489.8" cy="1054.6" r="7.0"/>
<circle cx="540.3" cy="1059.7" r="7.0"/>
<circle cx="519.4" cy="1084.9" r="7.0"/>
<circle cx="574.9" cy="1086.1" r="7.0"/>
<circle cx="552.0" cy="1111.7" r="7.0"/>
<circle cx="613.2" cy="1110.1" r="7.0"/>
<circle cx="589.1" cy="1137.0" r="7.0"/>
<circle cx="652.6" cy="1130.8" r="7.0"/>
<circle cx="627.2" cy="1160.1" r="7.0"/>
<circle cx="666.6" cy="1173.7" r="7.0"/>
<circle cx="691.2" cy="1139.9" r="7.0"/>
<circle cx="646.0" cy="900.3" r="7.0"/>
<circle cx="648.7" cy="923.2" r="7.0"/>
<circle cx="683.1" cy="919.4" r="7.0"/>
<circle cx="674.0" cy="951.9" r="7.0"/>
<circle cx="725.5" cy="935.9" r="7.0"/>
<circle cx="769.6" cy="949.2" r="7.0"/>
<circle cx="812.2" cy="960.4" r="7.0"/>
<circle cx="852.8" cy="963.4" r="7.0"/>
<circle cx="890.6" cy="964.5" r="7.0"/>
<circle cx="926.9" cy="964.5" r="7.0"/>
<circle cx="963.6" cy="964.1" r="7.0"/>
<circle cx="1001.9" cy="954.2" r="7.0"/>
<circle cx="1040.8" cy="948.5" r="7.0"/>
<circle cx="704.9" cy="977.1" r="7.0"/>
<circle cx="741.1" cy="996.6" r="7.0"/>
<circle cx="782.4" cy="1016.8" r="7.0"/>
<circle cx="826.9" cy="1034.0" r="7.0"/>
<circle cx="869.5" cy="1049.4" r="7.0"/>
<circle cx="911.3" cy="1063.1" r="7.0"/>
<circle cx="952.6" cy="1075.7" r="7.0"/>
<circle cx="992.2" cy="1077.6" r="7.0"/>
<circle cx="1033.3" cy="1066.6" r="7.0"/>
<circle cx="740.0" cy="1146.8" r="7.0"/>
<circle cx="787.0" cy="1151.4" r="7.0"/>
<circle cx="834.5" cy="1154.4" r="7.0"/>
<circle cx="881.9" cy="1154.4" r="7.0"/>
<circle cx="926.9" cy="1151.4" r="7.0"/>
<circle cx="968.1" cy="1145.2" r="7.0"/>
<circle cx="1003.7" cy="1137.6" r="7.0"/>
<circle cx="1007.1" cy="1153.2" r="7.0"/>
<circle cx="1034.0" cy="1130.1" r="7.0"/>
<circle cx="708.3" cy="1182.8" r="7.0"/>
<circle cx="750.8" cy="1189.2" r="7.0"/>
<circle cx="792.7" cy="1193.4" r="7.0"/>
<circle cx="834.9" cy="1195.0" r="7.0"/>
<circle cx="874.6" cy="1194.3" r="7.0"/>
<circle cx="911.3" cy="1190.4" r="7.0"/>
<circle cx="946.1" cy="1184.0" r="7.0"/>
<circle cx="977.3" cy="1173.2" r="7.0"/>
<circle cx="1050.5" cy="1107.8" r="7.0"/>
<circle cx="1098.8" cy="908.3" r="7.0"/>
<circle cx="1087.4" cy="922.1" r="7.0"/>
<circle cx="1075.9" cy="940.9" r="7.0"/>
<circle cx="1092.0" cy="946.6" r="7.0"/>
<circle cx="1110.1" cy="931.3" r="7.0"/>
<circle cx="1135.5" cy="918.7" r="7.0"/>
<circle cx="1160.1" cy="904.9" r="7.0"/>
<circle cx="1124.1" cy="951.9" r="7.0"/>
<circle cx="1097.0" cy="973.0" r="7.0"/>
<circle cx="1134.2" cy="974.2" r="7.0"/>
<circle cx="1098.8" cy="999.4" r="7.0"/>
<circle cx="1141.3" cy="997.1" r="7.0"/>
<circle cx="1097.7" cy="1026.9" r="7.0"/>
<circle cx="1142.9" cy="1020.7" r="7.0"/>
<circle cx="1149.1" cy="1034.9" r="7.0"/>
<circle cx="1137.8" cy="1044.1" r="7.0"/>
<circle cx="1112.4" cy="1043.2" r="7.0"/>
<circle cx="1072.5" cy="1052.8" r="7.0"/>
<circle cx="1090.4" cy="1053.5" r="7.0"/>
<circle cx="1125.7" cy="1067.7" r="7.0"/>
<circle cx="1076.8" cy="1080.3" r="7.0"/>
<circle cx="1108.0" cy="1091.1" r="7.0"/>
<circle cx="1086.2" cy="1105.5" r="7.0"/>
<circle cx="1061.9" cy="1118.8" r="7.0"/>
<circle cx="1181.2" cy="1027.6" r="7.0"/>
<circle cx="1210.1" cy="1020.0" r="7.0"/>
<circle cx="1235.7" cy="1009.7" r="7.0"/>
<circle cx="1258.2" cy="997.3" r="7.0"/>
<circle cx="1279.3" cy="983.6" r="7.0"/>
<circle cx="1299.9" cy="969.8" r="7.0"/>
</g>
</g>
<g stroke="#1e1e1e" stroke-width="3.7" fill="none" stroke-linecap="butt" filter="url(#ba)">
<path d="M236.05,68.14999999999999 V1343.6 H1516.1000000000001" stroke-linejoin="miter"/>
<path d="M236.05,69.7 h12.5" stroke-width="3.5"/>
<path d="M236.05,226.4 h12.5" stroke-width="3.5"/>
<path d="M236.05,387.2 h12.5" stroke-width="3.5"/>
<path d="M236.05,547.7 h12.5" stroke-width="3.5"/>
<path d="M236.05,708.4 h12.5" stroke-width="3.5"/>
<path d="M236.05,865.2 h12.5" stroke-width="3.5"/>
<path d="M236.05,1026.0 h12.5" stroke-width="3.5"/>
<path d="M236.05,1186.4 h12.5" stroke-width="3.5"/>
<path d="M553.9,1343.6 v-12.5" stroke-width="3.5"/>
<path d="M874.8,1343.6 v-12.5" stroke-width="3.5"/>
<path d="M1192.5,1343.6 v-12.5" stroke-width="3.5"/>
<path d="M1514.2,1343.6 v-12.5" stroke-width="3.5"/>
<rect x="1587.1" y="70.0" width="76.60000000000014" height="1273.4" fill="url(#cb)"/>
<path d="M1663.7,241.5 h-12.5" stroke-width="3.5"/>
<path d="M1663.7,413.7 h-12.5" stroke-width="3.5"/>
<path d="M1663.7,589.9 h-12.5" stroke-width="3.5"/>
<path d="M1663.7,761.8 h-12.5" stroke-width="3.5"/>
<path d="M1663.7,937.8 h-12.5" stroke-width="3.5"/>
<path d="M1663.7,1110.0 h-12.5" stroke-width="3.5"/>
<path d="M1663.7,1286.1 h-12.5" stroke-width="3.5"/>
</g>
<g font-family='"Liberation Serif", serif' fill="#1e1e1e" stroke="#fff" stroke-width="0.4" filter="url(#bt)">
<text transform="translate(147.97,81.31) scale(1.0667,0.9854)" font-size="61">20</text>
<text transform="translate(148.67,242.11) scale(1.0463,0.9927)" font-size="61">15</text>
<text transform="translate(148.62,398.81) scale(1.0556,0.9927)" font-size="61">10</text>
<text transform="translate(177.92,559.60) scale(1.1600,0.9951)" font-size="61">5</text>
<text transform="translate(179.13,720.60) scale(1.1346,0.9951)" font-size="61">0</text>
<text transform="translate(155.62,881.11) scale(1.0404,0.9927)" font-size="61"><tspan fill="#6e6e6e" stroke="#6e6e6e" stroke-width="1.8">-</tspan>5</text>
<text transform="translate(125.14,1037.83) scale(1.0312,0.9732)" font-size="61"><tspan fill="#6e6e6e" stroke="#6e6e6e" stroke-width="1.8">-</tspan>10</text>
<text transform="translate(125.14,1198.69) scale(1.0312,1.0073)" font-size="61"><tspan fill="#6e6e6e" stroke="#6e6e6e" stroke-width="1.8">-</tspan>15</text>
<text transform="translate(125.14,1359.20) scale(1.0312,1.0049)" font-size="61"><tspan fill="#6e6e6e" stroke="#6e6e6e" stroke-width="1.8">-</tspan>20</text>
<text transform="translate(190.45,1426.07) scale(1.0273,1.0341)" font-size="61"><tspan fill="#6e6e6e" stroke="#6e6e6e" stroke-width="1.8">-</tspan>20</text>
<text transform="translate(511.32,1426.07) scale(1.0377,1.0341)" font-size="61"><tspan fill="#6e6e6e" stroke="#6e6e6e" stroke-width="1.8">-</tspan>10</text>
<text transform="translate(856.08,1426.07) scale(1.1615,1.0341)" font-size="61">0</text>
<text transform="translate(1162.79,1426.07) scale(1.0611,1.0341)" font-size="61">10</text>
<text transform="translate(1480.18,1426.07) scale(1.0614,1.0341)" font-size="61">20</text>
<text transform="translate(1687.02,77.80) scale(1.0160,0.9973)" font-size="55">129</text>
<text transform="translate(1687.05,249.80) scale(1.0103,1.0000)" font-size="55">128.8</text>
<text transform="translate(1687.05,425.98) scale(1.0103,1.0189)" font-size="55">128.6</text>
<text transform="translate(1687.09,597.99) scale(1.0017,1.0054)" font-size="55">128.4</text>
<text transform="translate(1687.01,773.99) scale(1.0190,1.0081)" font-size="55">128.2</text>
<text transform="translate(1687.09,946.20) scale(1.0026,1.0000)" font-size="55">128</text>
<text transform="translate(1687.05,1122.38) scale(1.0103,1.0189)" font-size="55">127.8</text>
<text transform="translate(1687.05,1294.87) scale(1.0103,1.0324)" font-size="55">127.6</text>
<text><tspan x="765.9" y="1521.2" font-size="72">x </tspan><tspan x="813.8" y="1526.0" font-size="76">[</tspan><tspan x="838.6" y="1521.2" font-size="74.5">mm</tspan><tspan x="956.3" y="1526.0" font-size="76">]</tspan></text>
<text transform="rotate(-90)"><tspan x="-817.3" y="77.1" font-size="75">y </tspan><tspan x="-761.3" y="82.5" font-size="76">[</tspan><tspan x="-738.0" y="77.1" font-size="74.5">mm</tspan><tspan x="-616.9" y="82.5" font-size="76">]</tspan></text>
<text transform="rotate(-90)"><tspan x="-795.5" y="1879.5" font-size="60">z </tspan><tspan x="-753.5" y="1883.1" font-size="59">[</tspan><tspan x="-734.0" y="1879.5" font-size="58.5">mm</tspan><tspan x="-635.5" y="1883.1" font-size="59">]</tspan></text>
</g>
</svg>
</body></html>
